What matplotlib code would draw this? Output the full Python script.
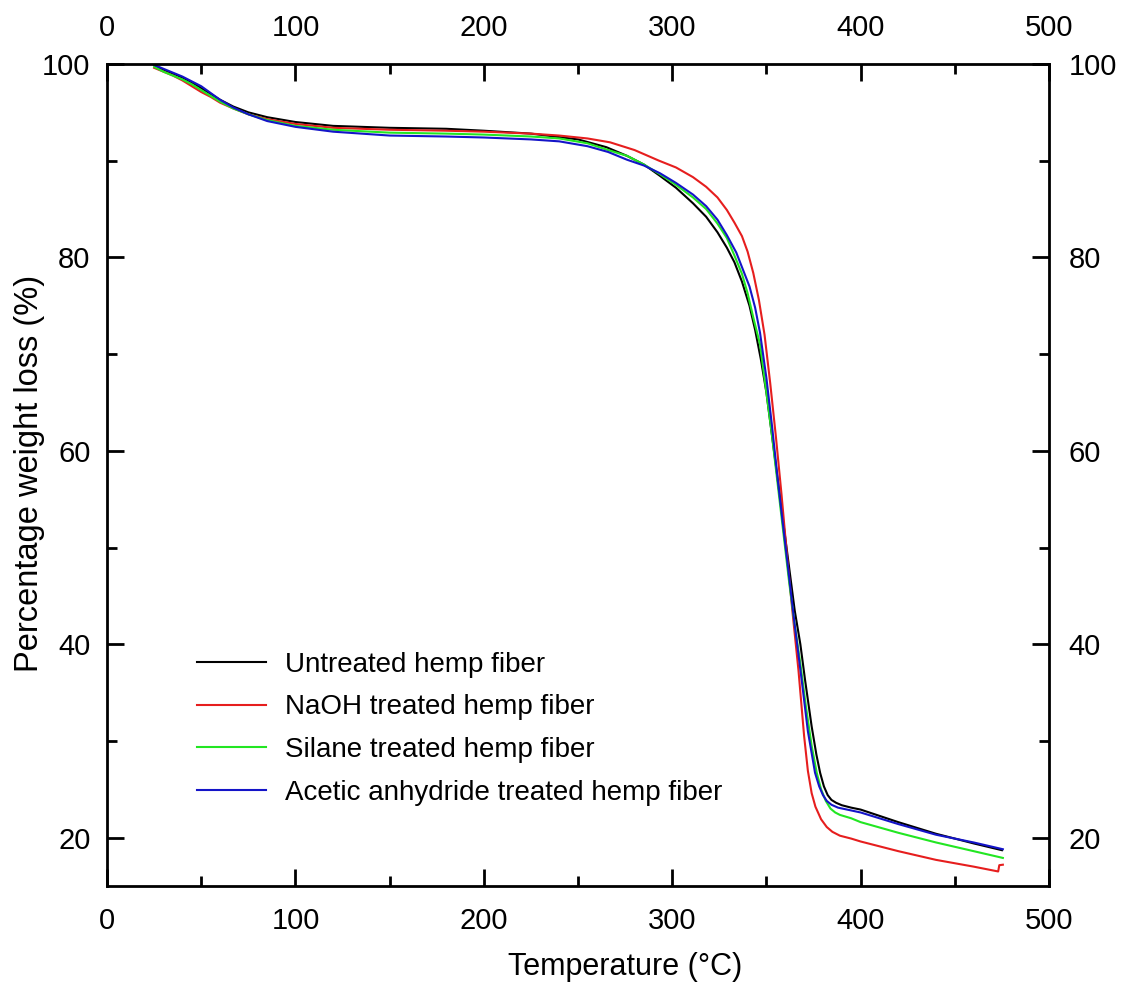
import matplotlib.pyplot as plt
from matplotlib.ticker import MultipleLocator

plt.rcParams['font.family'] = ['Liberation Sans', 'DejaVu Sans']

# Untreated hemp fiber
t_untreated = [25, 30, 35, 40, 45, 50, 55, 60, 67, 75, 85, 100, 120, 150, 180, 200, 225, 250, 265, 276,
               285, 293, 302, 311, 318, 324, 329, 333, 337, 341, 344, 347, 350, 353, 356, 359, 362, 365,
               368, 370.5, 374, 376.5, 378.5, 380.5, 382.5, 384.5, 387, 390, 395, 400, 420, 440, 460, 475]
w_untreated = [99.9, 99.4, 99.0, 98.6, 98.1, 97.5, 96.9, 96.3, 95.6, 95.0, 94.5, 94.0, 93.6, 93.4, 93.3, 93.1,
               92.8, 92.2, 91.4, 90.5, 89.6, 88.5, 87.2, 85.6, 84.2, 82.6, 81.0, 79.5, 77.5, 75.0, 72.5,
               69.5, 66.0, 61.5, 57.0, 52.5, 48.0, 43.5, 40.0, 36.3, 31.5, 28.6, 26.7, 25.3, 24.4, 23.9,
               23.6, 23.35, 23.1, 22.9, 21.6, 20.4, 19.4, 18.7]

# NaOH treated hemp fiber
t_naoh = [25, 30, 35, 40, 45, 50, 55, 60, 67, 75, 85, 100, 120, 150, 180, 200, 225, 240, 255, 267,
          280, 293, 302, 311, 318, 324, 329, 333, 337, 340, 343, 346, 349, 352, 355, 358, 361, 364,
          367, 370, 372, 374, 376, 379, 382, 385, 389, 395, 400, 420, 440, 460, 473, 473.6, 475.5]
w_naoh = [99.6, 99.2, 98.8, 98.3, 97.7, 97.1, 96.6, 96.0, 95.4, 94.8, 94.3, 93.8, 93.4, 93.2, 93.1, 93.0,
          92.8, 92.6, 92.3, 91.9, 91.1, 90.0, 89.3, 88.3, 87.3, 86.2, 84.9, 83.6, 82.2, 80.6, 78.4,
          75.6, 72.0, 67.0, 61.5, 55.5, 49.0, 43.0, 37.3, 30.5, 26.9, 24.6, 23.2, 21.9, 21.1, 20.6,
          20.2, 19.9, 19.6, 18.6, 17.7, 17.0, 16.5, 17.15, 17.2]

# Silane treated hemp fiber
t_silane = [25, 30, 35, 40, 45, 50, 55, 60, 67, 75, 85, 100, 120, 150, 180, 200, 225, 240, 255, 266,
            276, 285, 293.5, 302, 311, 318, 324, 329, 333, 337, 340, 343, 346.6, 350, 353, 356, 359,
            362, 365, 368, 371, 374, 376.7, 379, 381.5, 384, 386.5, 389, 395, 400, 420, 440, 460, 475.5]
w_silane = [99.7, 99.2, 98.8, 98.4, 97.9, 97.3, 96.7, 96.1, 95.4, 94.8, 94.2, 93.6, 93.2, 92.9, 92.8,
            92.7, 92.5, 92.3, 91.8, 91.1, 90.5, 89.6, 88.6, 87.5, 86.2, 85.0, 83.5, 82.0, 80.2, 78.3,
            76.3, 73.8, 71.0, 66.0, 61.5, 56.5, 51.5, 46.5, 42.0, 38.0, 33.5, 29.5, 26.7, 25.0, 23.8,
            23.0, 22.6, 22.35, 22.0, 21.6, 20.5, 19.5, 18.6, 17.9]

# Acetic anhydride treated hemp fiber
t_acetic = [25, 30, 35, 40, 45, 50, 55, 60, 67, 75, 85, 100, 120, 150, 180, 200, 225, 240, 255, 266,
            276, 285, 293.5, 302, 311, 318, 324, 329, 334, 338, 341, 344, 346.6, 350, 353, 356, 359,
            362, 365, 368.7, 372, 375.8, 378, 380, 382, 384.5, 388, 394, 400, 420, 440, 460, 475.5]
w_acetic = [99.9, 99.5, 99.1, 98.7, 98.2, 97.7, 97.0, 96.3, 95.5, 94.8, 94.1, 93.5, 93.0, 92.6, 92.5,
            92.4, 92.2, 92.0, 91.5, 90.9, 90.1, 89.5, 88.7, 87.7, 86.5, 85.3, 83.9, 82.3, 80.5, 78.5,
            77.0, 74.8, 72.2, 67.5, 62.5, 57.0, 52.0, 47.0, 42.0, 36.3, 31.0, 26.7, 25.3, 24.4, 23.8,
            23.4, 23.1, 22.85, 22.6, 21.4, 20.3, 19.5, 18.8]

x_ticks = [0, 100, 200, 300, 400, 500]
y_ticks = [20, 40, 60, 80, 100]

fig = plt.figure(figsize=(11.21, 9.83), dpi=100)
ax = fig.add_axes([0.0955, 0.0987, 0.8403, 0.8362])

ax.plot(t_untreated, w_untreated, color='black', lw=1.5, label='Untreated hemp fiber')
ax.plot(t_naoh, w_naoh, color='#e61e1e', lw=1.5, label='NaOH treated hemp fiber')
ax.plot(t_silane, w_silane, color='#22e622', lw=1.5, label='Silane treated hemp fiber')
ax.plot(t_acetic, w_acetic, color='#1414c8', lw=1.5, label='Acetic anhydride treated hemp fiber')

ax.set_xlim(0, 500)
ax.set_ylim(15, 100)
ax.set_xticks(x_ticks)
ax.set_yticks(y_ticks)
ax.xaxis.set_minor_locator(MultipleLocator(50))
ax.yaxis.set_minor_locator(MultipleLocator(10))

ax.tick_params(which='both', direction='in', top=True, right=True, width=2, labelsize=21)
ax.tick_params(which='major', length=12)
ax.tick_params(which='minor', length=7)
ax.tick_params(axis='x', which='major', pad=15)
ax.tick_params(axis='y', which='major', pad=12)
for side in ax.spines.values():
    side.set_linewidth(2)

# labels on top and right
top = ax.secondary_xaxis('top')
top.set_xticks(x_ticks)
top.tick_params(length=0, pad=16, labelsize=21)
right = ax.secondary_yaxis('right')
right.set_yticks(y_ticks)
right.tick_params(length=0, pad=14, labelsize=21)

ax.set_xlabel('Temperature (°C)', fontsize=22)
ax.xaxis.set_label_coords(0.55, -0.08)
ax.set_ylabel('Percentage weight loss (%)', fontsize=23.5)
ax.yaxis.set_label_coords(-0.066, 0.502)

ax.legend(loc='upper left', bbox_to_anchor=(0.096, 0.285), frameon=False, fontsize=20,
          handlelength=2.45, handletextpad=0.7, labelspacing=0.6, borderpad=0, borderaxespad=0)

plt.savefig('out.png', dpi=100)
